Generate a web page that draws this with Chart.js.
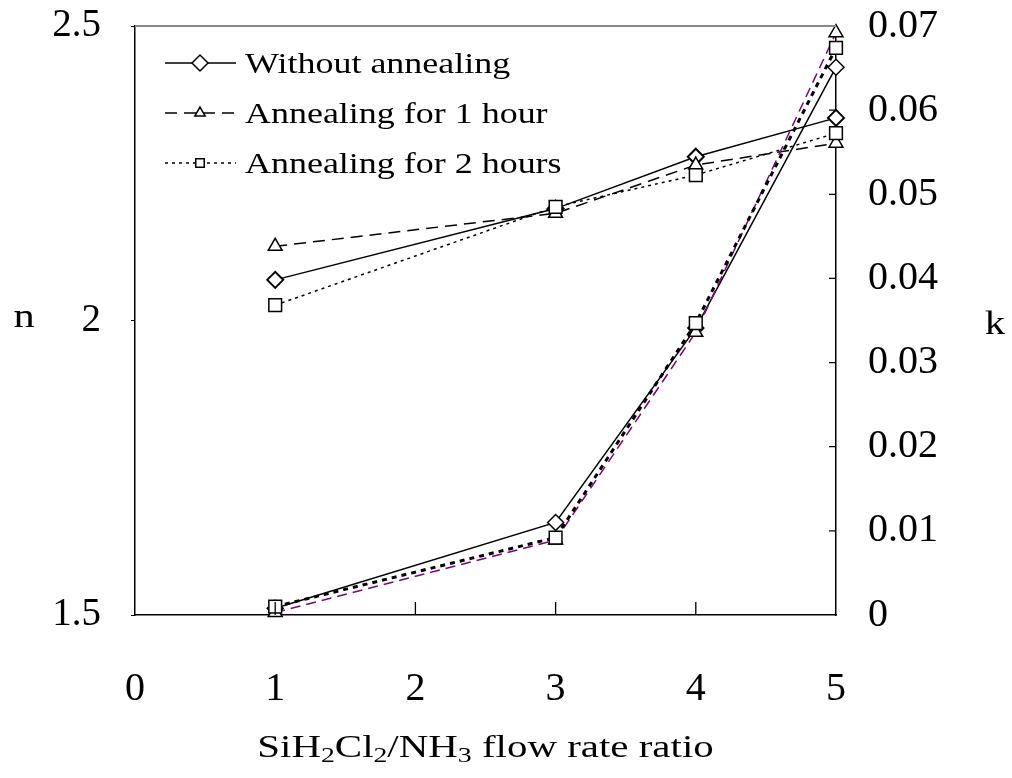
<!DOCTYPE html>
<html>
<head>
<meta charset="utf-8">
<script src="https://cdn.jsdelivr.net/npm/chart.js@4.4.1/dist/chart.umd.min.js"></script>
<style>
  html, body { margin: 0; padding: 0; background: #fff; }
  #wrap { position: relative; width: 1012px; height: 778px; }
  #xTitle {
    position: absolute; left: 135px; width: 701px; top: 727px;
    text-align: center; font-family: "Liberation Serif", serif; font-size: 31px;
    line-height: 40px; color: #000; transform: scaleX(1.32);
  }
  #xTitle sub { font-size: 21px; vertical-align: -5px; line-height: 0; }
</style>
</head>
<body>
<div id="wrap">
  <canvas id="chart"></canvas>
  <div id="xTitle">SiH<sub>2</sub>Cl<sub>2</sub>/NH<sub>3</sub> flow rate ratio</div>
</div>
<script>
// --- data ---
var ratios = [1, 3, 4, 5];
var seriesNames = ['Without annealing', 'Annealing for 1 hour', 'Annealing for 2 hours'];

// refractive index n (left axis)
var nWithout = [2.069, 2.190, 2.278, 2.344];
var n1h      = [2.126, 2.182, 2.264, 2.301];
var n2h      = [2.026, 2.193, 2.247, 2.318];

// extinction coefficient k (right axis)
var kWithout = [0.0008, 0.0110, 0.0341, 0.0651];
var k1h      = [0.0003, 0.0089, 0.0336, 0.0692];
var k2h      = [0.0010, 0.0092, 0.0347, 0.0674];

var SERIF = '"Liberation Serif", "Times New Roman", serif';

function pts(vals) {
  return vals.map(function(v, i) { return { x: ratios[i], y: v }; });
}

function ds(label, vals, axis, style) {
  return {
    label: label,
    data: pts(vals),
    yAxisID: axis,
    borderColor: style.color || '#000',
    borderWidth: style.width || 1.5,
    borderDash: style.dash || [],
    pointStyle: style.point,
    pointRadius: style.radius,
    pointBorderWidth: style.pbw || 1.5,
    pointBackgroundColor: '#fff',
    pointBorderColor: '#000',
    tension: 0,
    fill: false,
    clip: false,
    legendShow: style.legend || false
  };
}

var datasets = [
  ds(seriesNames[2], k2h, 'yk', { point: 'rect', radius: 9, dash: [5, 5], width: 3 }),
  ds(seriesNames[1], k1h, 'yk', { point: 'triangle', radius: 8, dash: [10, 6], color: '#800080' }),
  ds(seriesNames[0], kWithout, 'yk', { point: 'rectRot', radius: 8 }),
  ds(seriesNames[2], n2h, 'yn', { point: 'rect', radius: 9, dash: [3, 4], legend: true }),
  ds(seriesNames[1], n1h, 'yn', { point: 'triangle', radius: 8, dash: [12, 7], legend: true }),
  ds(seriesNames[0], nWithout, 'yn', { point: 'rectRot', radius: 8, pbw: 2, legend: true })
];

// frame extras: gray top edge, inward ticks, axis letters, legend
var extras = {
  id: 'extras',
  afterDatasetsDraw: function(chart) {
    var ctx = chart.ctx, a = chart.chartArea;
    var sx = chart.scales.x, sk = chart.scales.yk;
    ctx.save();
    ctx.strokeStyle = '#888';
    ctx.lineWidth = 2;
    ctx.beginPath();
    ctx.moveTo(a.left, a.top); ctx.lineTo(a.right, a.top);
    ctx.stroke();

    ctx.strokeStyle = '#000';
    ctx.lineWidth = 1.3;
    ctx.beginPath();
    [1, 2, 3, 4].forEach(function(v) {
      var px = sx.getPixelForValue(v);
      ctx.moveTo(px, a.bottom); ctx.lineTo(px, a.bottom - 13);
    });
    [0.01, 0.02, 0.03, 0.04, 0.05, 0.06].forEach(function(v) {
      var py = sk.getPixelForValue(v);
      ctx.moveTo(a.right, py); ctx.lineTo(a.right - 7, py);
    });
    ctx.stroke();

    ctx.fillStyle = '#000';
    ctx.textAlign = 'center';
    ctx.textBaseline = 'middle';
    ctx.save();
    ctx.font = '34px ' + SERIF;
    ctx.translate(24, 318); ctx.scale(1.25, 1);
    ctx.fillText('n', 0, 0);
    ctx.restore();
    ctx.save();
    ctx.font = '34px ' + SERIF;
    ctx.translate(995, 325); ctx.scale(1.2, 1);
    ctx.fillText('k', 0, 0);
    ctx.restore();

    // legend
    var rows = [63, 113, 163];
    var shown = chart.data.datasets.filter(function(d) { return d.legendShow; }).reverse();
    ctx.font = '29px ' + SERIF;
    ctx.textAlign = 'left';
    shown.forEach(function(d, i) {
      var y = rows[i];
      ctx.strokeStyle = '#000';
      ctx.lineWidth = 1.5;
      ctx.setLineDash(d.borderDash);
      ctx.beginPath();
      ctx.moveTo(165, y); ctx.lineTo(236, y);
      ctx.stroke();
      ctx.setLineDash([]);
      ctx.fillStyle = '#fff';
      Chart.helpers.drawPoint(ctx, {
        pointStyle: d.pointStyle,
        radius: d.pointStyle === 'rectRot' ? 8 : 6,
        rotation: 0,
        borderWidth: 1.3
      }, 200, y);
      ctx.fillStyle = '#000';
      ctx.save();
      ctx.translate(245, y + 2);
      ctx.scale(1.24, 1);
      ctx.fillText(d.label, 0, 0);
      ctx.restore();
    });
    ctx.restore();
  }
};

function noPadY(s) { s.paddingTop = 0; s.paddingBottom = 0; }

new Chart(document.getElementById('chart'), {
  type: 'line',
  data: { datasets: datasets },
  options: {
    responsive: true,
    maintainAspectRatio: false,
    animation: false,
    layout: { padding: { top: 26, left: 0, right: 0, bottom: 0 } },
    plugins: { legend: { display: false }, tooltip: { enabled: false } },
    scales: {
      x: {
        type: 'linear',
        min: 0, max: 5,
        ticks: { stepSize: 1, padding: 50, color: '#000', font: { family: SERIF, size: 40 } },
        grid: { display: false, drawTicks: false },
        border: { color: '#000', width: 1.5 },
        afterFit: function(s) { s.height = 163; s.paddingLeft = 0; s.paddingRight = 0; }
      },
      yn: {
        position: 'left',
        min: 1.5, max: 2.5,
        ticks: {
          stepSize: 0.5, padding: 30, color: '#000', font: { family: SERIF, size: 39 },
          callback: function(v) { return v === 2 ? '2' : v.toFixed(1); }
        },
        grid: { drawOnChartArea: false, tickLength: 4, color: '#000' },
        border: { color: '#000', width: 1.5 },
        afterFit: function(s) { s.width = 135; noPadY(s); }
      },
      yk: {
        position: 'right',
        min: 0, max: 0.07,
        ticks: {
          stepSize: 0.01, padding: 32, color: '#000', font: { family: SERIF, size: 40 },
          callback: function(v) { return v === 0 ? '0' : v.toFixed(2); }
        },
        grid: { display: false, drawTicks: false },
        border: { color: '#000', width: 1.5 },
        afterFit: function(s) { s.width = 176; noPadY(s); }
      }
    }
  },
  plugins: [extras]
});
</script>
</body>
</html>
